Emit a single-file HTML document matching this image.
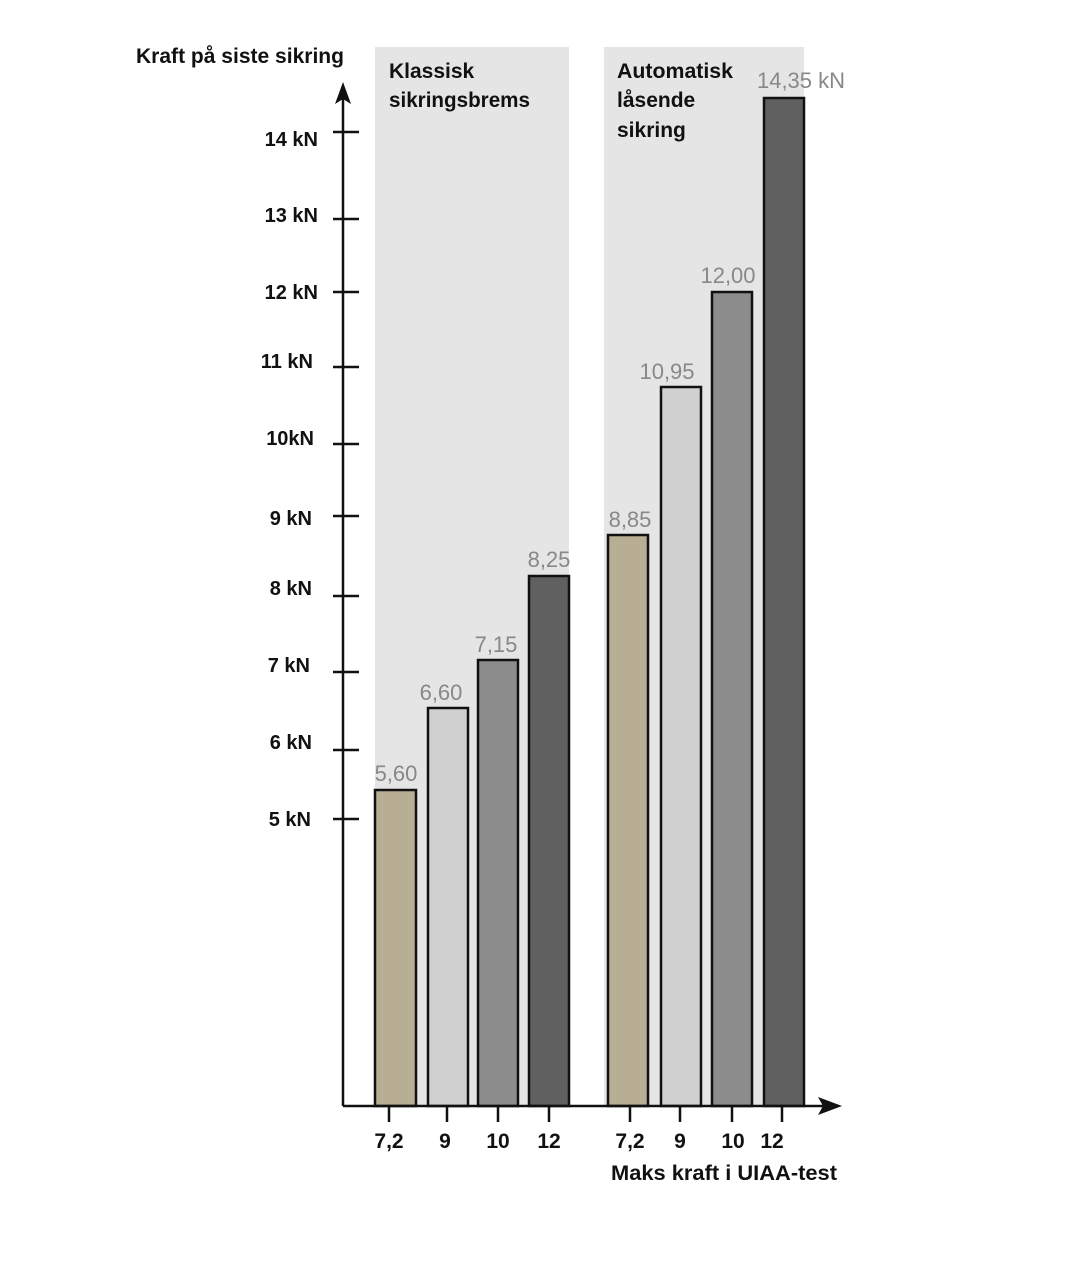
<!DOCTYPE html><html><head><style>body{margin:0;background:#fff}</style></head><body>
<svg width="1080" height="1275" xmlns="http://www.w3.org/2000/svg" font-family="Liberation Sans, sans-serif">
<rect width="1080" height="1275" fill="#fff"/>
<rect x="375" y="47" width="194" height="1059" fill="#e5e5e5"/>
<rect x="604" y="47" width="200" height="1059" fill="#e5e5e5"/>
<g stroke="#111" stroke-width="2.5">
<rect x="375" y="790" width="41" height="316" fill="#b8ae93"/>
<rect x="428" y="708" width="40" height="398" fill="#d0d0d0"/>
<rect x="478" y="660" width="40" height="446" fill="#8c8c8c"/>
<rect x="529" y="576" width="40" height="530" fill="#606060"/>
<rect x="608" y="535" width="40" height="571" fill="#b8ae93"/>
<rect x="661" y="387" width="40" height="719" fill="#d0d0d0"/>
<rect x="712" y="292" width="40" height="814" fill="#8c8c8c"/>
<rect x="764" y="98" width="40" height="1008" fill="#606060"/>
</g>
<g stroke="#111" stroke-width="2.5">
<line x1="343" y1="95" x2="343" y2="1106"/>
<line x1="343" y1="1106" x2="825" y2="1106"/>
<line x1="333" y1="132" x2="359" y2="132"/><line x1="333" y1="219" x2="359" y2="219"/>
<line x1="333" y1="292" x2="359" y2="292"/><line x1="333" y1="367" x2="359" y2="367"/>
<line x1="333" y1="444" x2="359" y2="444"/><line x1="333" y1="516" x2="359" y2="516"/>
<line x1="333" y1="596" x2="359" y2="596"/><line x1="333" y1="672" x2="359" y2="672"/>
<line x1="333" y1="750" x2="359" y2="750"/><line x1="333" y1="819" x2="359" y2="819"/>
<line x1="389" y1="1106" x2="389" y2="1122"/><line x1="447" y1="1106" x2="447" y2="1122"/>
<line x1="498" y1="1106" x2="498" y2="1122"/><line x1="549" y1="1106" x2="549" y2="1122"/>
<line x1="630" y1="1106" x2="630" y2="1122"/><line x1="680" y1="1106" x2="680" y2="1122"/>
<line x1="732" y1="1106" x2="732" y2="1122"/><line x1="782" y1="1106" x2="782" y2="1122"/>
</g>
<polygon points="343,82 335,104 343,99 351,104" fill="#111"/>
<polygon points="842,1106 818,1097 823,1106 818,1115" fill="#111"/>
<g font-weight="bold" font-size="20" fill="#111" text-anchor="end">
<text x="318" y="146">14 kN</text><text x="318" y="222">13 kN</text>
<text x="318" y="299">12 kN</text><text x="313" y="368">11 kN</text>
<text x="314" y="445">10kN</text><text x="312" y="525">9 kN</text>
<text x="312" y="595">8 kN</text><text x="310" y="672">7 kN</text>
<text x="312" y="749">6 kN</text><text x="311" y="826">5 kN</text>
</g>
<g font-weight="bold" font-size="21" fill="#111">
<text x="136" y="63" textLength="208" lengthAdjust="spacingAndGlyphs">Kraft på siste sikring</text>
<text x="389" y="78">Klassisk</text><text x="389" y="107" textLength="141" lengthAdjust="spacingAndGlyphs">sikringsbrems</text>
<text x="617" y="78" textLength="116" lengthAdjust="spacingAndGlyphs">Automatisk</text><text x="617" y="107">låsende</text><text x="617" y="137">sikring</text>
<text x="611" y="1180" textLength="226" lengthAdjust="spacingAndGlyphs">Maks kraft i UIAA-test</text>
</g>
<g font-weight="bold" font-size="21" fill="#111" text-anchor="middle">
<text x="389" y="1148">7,2</text><text x="445" y="1148">9</text><text x="498" y="1148">10</text><text x="549" y="1148">12</text>
<text x="630" y="1148">7,2</text><text x="680" y="1148">9</text><text x="733" y="1148">10</text><text x="772" y="1148">12</text>
</g>
<g font-size="22" fill="#888" text-anchor="middle">
<text x="396" y="781">5,60</text><text x="441" y="700">6,60</text><text x="496" y="652">7,15</text>
<text x="549" y="567">8,25</text><text x="630" y="527">8,85</text><text x="667" y="379">10,95</text>
<text x="728" y="283">12,00</text><text x="801" y="88">14,35 kN</text>
</g>
</svg></body></html>
